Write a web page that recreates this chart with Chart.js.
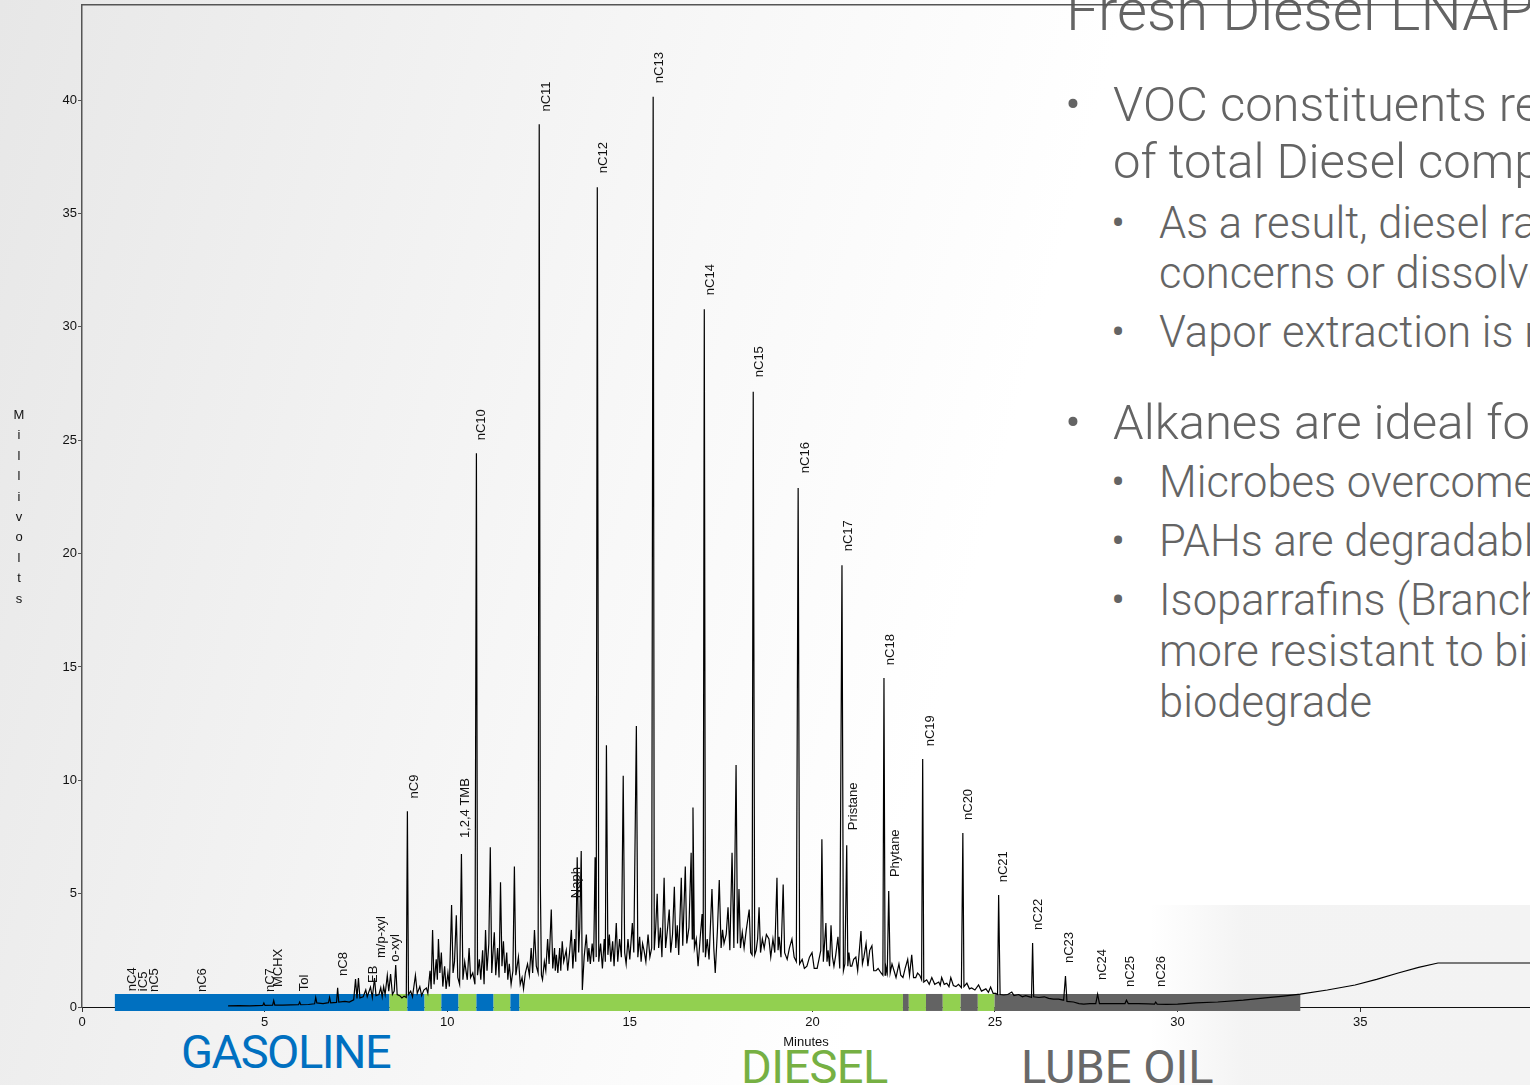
<!DOCTYPE html>
<html>
<head>
<meta charset="utf-8">
<script src="https://cdn.jsdelivr.net/npm/chart.js@4.4.0/dist/chart.umd.min.js"></script>
<style>
  html, body { margin:0; padding:0; }
  body { width:1530px; height:1085px; overflow:hidden; position:relative;
    background: linear-gradient(105deg, #e7e7e7 0%, #f0f0f0 22%, #f8f8f8 42%, #ffffff 62%, #ffffff 100%); }
  #lowpanel { position:absolute; left:1150px; top:905px; width:380px; height:180px;
    background: linear-gradient(90deg, rgba(242,242,242,0) 0%, rgba(242,242,242,0.9) 25%, #f3f3f3 100%); z-index:0; }
  #wrap { position:absolute; left:0; top:0; width:1530px; height:1085px; z-index:2; }
  .t { position:absolute; white-space:nowrap; line-height:1; font-family:Roboto, "Open Sans", sans-serif;
       font-weight:300; color:#646464; z-index:1; }
  .cat { position:absolute; white-space:nowrap; line-height:1; font-family:Roboto, sans-serif; font-weight:400; z-index:1; }
  #mv { position:absolute; left:9px; top:405px; width:20px; text-align:center; font:13px "Liberation Sans", Arial, sans-serif;
        line-height:20.4px; color:#111; z-index:3; }
</style>
</head>
<body>
<div id="lowpanel"></div>

<div class="t" style="left:1066px; top:-19px; font-size:58px;">Fresh Diesel LNAPL</div>

<div class="t" style="left:1065px; top:79.8px; font-size:49px;">•</div>
<div class="t" style="left:1113px; top:79.8px; font-size:49px;">VOC constituents represent</div>
<div class="t" style="left:1113px; top:136.8px; font-size:49px;">of total Diesel composition</div>

<div class="t" style="left:1111px; top:202.4px; font-size:43.5px;">•</div>
<div class="t" style="left:1159px; top:202.4px; font-size:43.5px;">As a result, diesel rarely</div>
<div class="t" style="left:1159px; top:252.4px; font-size:43.5px;">concerns or dissolved</div>
<div class="t" style="left:1111px; top:311.4px; font-size:43.5px;">•</div>
<div class="t" style="left:1159px; top:311.4px; font-size:43.5px;">Vapor extraction is not</div>

<div class="t" style="left:1065px; top:397.8px; font-size:49px;">•</div>
<div class="t" style="left:1113px; top:397.8px; font-size:49px;">Alkanes are ideal for</div>

<div class="t" style="left:1111px; top:461.4px; font-size:43.5px;">•</div>
<div class="t" style="left:1159px; top:461.4px; font-size:43.5px;">Microbes overcome</div>
<div class="t" style="left:1111px; top:520.4px; font-size:43.5px;">•</div>
<div class="t" style="left:1159px; top:520.4px; font-size:43.5px;">PAHs are degradable</div>
<div class="t" style="left:1111px; top:579.4px; font-size:43.5px;">•</div>
<div class="t" style="left:1159px; top:579.4px; font-size:43.5px;">Isoparrafins (Branched</div>
<div class="t" style="left:1159px; top:630.4px; font-size:43.5px;">more resistant to biological</div>
<div class="t" style="left:1159px; top:681.4px; font-size:43.5px;">biodegrade</div>

<div class="cat" style="left:181px; top:1028px; font-size:47px; color:#0070C0; letter-spacing:-1.5px;">GASOLINE</div>
<div class="cat" style="left:741px; top:1043px; font-size:47px; color:#76B043; letter-spacing:-0.6px;">DIESEL</div>
<div class="cat" style="left:1021px; top:1043px; font-size:47px; color:#686868; letter-spacing:0px;">LUBE OIL</div>

<div id="mv">M<br>i<br>l<br>l<br>i<br>v<br>o<br>l<br>t<br>s</div>

<div id="wrap"><canvas id="c" width="1530" height="1085"></canvas></div>

<script>
// ---- Chromatogram trace: [retention time (min), signal (mV)] ----
const tracePoints = [
[4.00,0.05],[4.30,0.06],[4.60,0.05],[4.95,0.07],[4.98,0.18],[5.01,0.07],[5.22,0.08],[5.25,0.28],[5.28,0.08],[5.50,0.08],
[5.72,0.09],[5.93,0.10],[5.96,0.22],[5.99,0.10],[6.20,0.11],[6.37,0.14],[6.40,0.42],[6.43,0.18],[6.60,0.15],[6.75,0.19],
[6.78,0.42],[6.81,0.18],[6.97,0.20],[7.00,0.85],[7.03,0.22],[7.20,0.25],[7.32,0.22],[7.44,0.32],[7.49,1.23],[7.53,0.38],
[7.57,1.28],[7.61,0.40],[7.70,0.45],[7.77,0.75],[7.81,0.45],[7.90,0.88],[7.95,0.42],[8.01,1.28],[8.05,0.50],[8.13,0.55],
[8.18,0.85],[8.22,0.45],[8.26,0.90],[8.30,0.55],[8.36,1.40],[8.40,0.70],[8.45,1.45],[8.50,0.55],[8.55,0.70],[8.59,1.85],
[8.63,0.55],[8.70,0.50],[8.76,0.40],[8.82,0.48],[8.88,0.42],[8.91,8.64],[8.94,0.55],
[9.00,0.70],[9.05,0.45],[9.13,1.40],[9.18,0.60],[9.25,0.90],[9.30,0.50],[9.36,0.75],[9.43,0.84],[9.47,0.60],[9.53,1.60],
[9.56,0.80],[9.60,3.40],[9.64,1.00],[9.70,2.10],[9.73,1.20],[9.76,3.00],[9.80,1.50],[9.84,2.40],[9.88,0.90],[9.93,1.80],
[9.97,0.80],[10.02,1.50],[10.06,0.90],[10.12,4.50],[10.16,1.50],[10.20,2.00],[10.25,4.05],[10.29,1.30],[10.34,1.00],[10.39,6.75],
[10.43,1.20],[10.48,2.00],[10.55,1.20],[10.60,2.60],[10.64,1.30],[10.70,1.50],[10.76,1.00],[10.80,24.43],[10.83,1.40],[10.88,2.10],
[10.92,1.20],[10.97,2.50],[11.01,1.00],[11.05,3.40],[11.09,1.60],[11.14,2.80],[11.18,7.05],[11.22,1.50],[11.29,3.30],[11.33,1.40],
[11.38,2.60],[11.42,1.30],[11.46,5.50],[11.50,1.80],[11.54,2.90],[11.58,1.50],[11.63,2.40],[11.66,1.20],[11.70,1.90],[11.75,1.00],
[11.80,1.60],[11.84,6.20],[11.88,1.40],[11.95,2.20],[12.00,1.00],[12.05,1.30],[12.09,0.80],[12.14,1.50],[12.20,1.90],[12.25,1.40],
[12.30,2.60],[12.34,1.50],[12.39,3.40],[12.44,1.80],[12.49,1.50],[12.52,38.94],[12.55,5.50],[12.58,1.40],
[12.61,1.20],[12.66,2.00],[12.70,1.60],[12.75,3.00],[12.79,1.90],[12.85,4.30],[12.89,1.70],[12.94,2.60],[12.96,1.60],[12.99,2.30],
[13.03,1.50],[13.08,2.60],[13.11,1.60],[13.15,2.90],[13.19,2.00],[13.26,2.50],[13.30,1.60],[13.35,2.40],[13.40,3.40],[13.44,1.70],
[13.49,3.00],[13.52,2.00],[13.56,6.60],[13.60,2.40],[13.63,3.50],[13.67,6.88],[13.70,0.75],[13.75,2.20],[13.81,3.20],[13.85,2.00],
[13.88,2.60],[13.92,1.90],[13.97,2.80],[14.01,2.00],[14.05,6.60],[14.08,2.20],[14.11,36.16],[14.15,2.00],[14.20,2.80],[14.25,1.70],
[14.30,3.00],[14.33,2.00],[14.36,11.55],[14.40,2.30],[14.44,3.20],[14.48,2.00],[14.53,2.90],[14.57,1.80],[14.63,3.70],[14.67,2.00],
[14.72,3.00],[14.77,2.20],[14.82,10.20],[14.86,2.40],[14.90,1.90],[14.95,3.00],[15.00,2.10],[15.07,3.70],[15.11,2.40],[15.18,12.40],
[15.22,2.20],[15.27,3.10],[15.31,2.00],[15.35,2.80],[15.39,2.50],[15.44,2.00],[15.50,3.20],[15.55,2.20],[15.60,2.60],[15.64,40.15],
[15.67,2.50],[15.71,3.50],[15.75,5.00],[15.79,2.60],[15.84,3.50],[15.88,2.20],[15.94,5.70],[15.98,2.60],[16.03,3.40],[16.08,4.30],
[16.12,2.40],[16.17,3.20],[16.22,5.30],[16.26,2.60],[16.30,3.60],[16.34,2.30],[16.41,5.70],[16.45,2.70],[16.52,6.20],[16.56,2.80],
[16.62,3.50],[16.68,6.80],[16.71,3.00],[16.73,8.80],[16.77,2.60],[16.82,3.00],[16.87,1.80],[16.93,3.10],[16.98,4.10],[17.01,2.40],
[17.04,30.78],[17.07,2.20],
[17.12,3.00],[17.17,2.10],[17.25,5.20],[17.30,2.60],[17.34,1.50],[17.40,3.40],[17.45,5.60],[17.50,2.60],[17.54,3.40],[17.58,2.80],
[17.64,3.20],[17.69,4.40],[17.74,2.50],[17.80,6.80],[17.85,2.60],[17.91,10.67],[17.95,2.80],[17.99,5.20],[18.03,2.60],[18.08,3.30],
[18.13,2.60],[18.19,3.40],[18.27,4.30],[18.31,2.40],[18.35,2.30],[18.38,27.14],[18.42,2.30],[18.46,2.50],[18.50,3.00],[18.54,4.40],
[18.58,2.40],[18.63,3.00],[18.68,2.60],[18.74,3.20],[18.81,3.00],[18.86,2.20],[18.92,3.00],[18.97,2.40],[19.03,5.70],[19.06,2.50],
[19.09,3.10],[19.14,2.20],[19.20,5.40],[19.24,2.40],[19.31,2.10],[19.37,2.60],[19.44,3.00],[19.50,2.20],[19.56,2.00],[19.61,22.89],
[19.65,1.90],[19.72,2.10],[19.78,1.70],[19.85,1.80],[19.92,2.20],[19.99,2.40],[20.05,1.70],[20.13,1.70],[20.18,2.10],[20.23,2.50],
[20.26,7.40],[20.30,2.00],[20.37,3.70],[20.40,2.00],[20.43,2.50],[20.47,1.80],[20.51,3.60],[20.55,2.20],[20.59,1.80],[20.64,2.30],
[20.70,3.10],[20.75,1.70],[20.81,19.49],[20.85,1.60],[20.89,1.90],[20.94,7.14],[20.97,1.80],[21.00,2.40],[21.04,1.80],[21.08,1.80],
[21.13,2.10],[21.19,2.20],[21.24,1.60],[21.33,3.35],[21.37,1.90],[21.41,2.20],[21.47,2.80],[21.52,1.80],[21.57,2.50],[21.63,2.70],
[21.68,1.60],[21.74,1.60],[21.80,1.70],[21.88,1.50],[21.93,1.40],[21.96,14.51],[21.99,1.40],[22.01,1.80],[22.05,1.50],[22.09,5.12],
[22.13,1.50],[22.18,1.90],[22.29,1.30],[22.33,1.60],[22.37,1.90],[22.42,1.40],[22.48,1.30],
[22.54,1.70],[22.61,2.10],[22.66,1.40],[22.72,2.30],[22.77,1.30],[22.83,1.30],[22.88,1.50],[22.94,1.40],[22.99,1.20],[23.02,10.94],
[23.05,1.10],[23.13,1.20],[23.20,1.00],[23.27,1.30],[23.35,1.00],[23.46,1.10],[23.50,0.95],[23.54,1.30],[23.61,1.00],[23.68,1.05],
[23.74,0.90],[23.79,1.30],[23.86,0.95],[23.93,0.90],[24.00,1.00],[24.08,0.85],[24.12,7.67],[24.15,0.90],[24.23,1.05],[24.30,0.80],
[24.36,0.84],[24.45,0.75],[24.55,0.97],[24.63,0.70],[24.75,0.80],[24.82,0.65],[24.88,0.88],[24.95,0.60],[25.02,0.60],[25.07,0.55],
[25.10,4.94],[25.14,0.55],
[25.24,0.53],[25.35,0.55],[25.46,0.66],[25.52,0.50],[25.65,0.55],[25.75,0.45],[25.84,0.50],[25.95,0.45],[26.00,0.42],[26.03,2.82],
[26.06,0.45],[26.20,0.42],[26.35,0.45],[26.47,0.38],[26.60,0.35],[26.74,0.35],[26.88,0.30],[26.93,1.37],[26.97,0.25],[27.15,0.22],
[27.30,0.15],[27.43,0.13],[27.60,0.15],[27.76,0.15],[27.81,0.57],[27.86,0.15],[28.11,0.15],[28.40,0.15],[28.56,0.15],[28.60,0.30],
[28.65,0.15],[28.93,0.15],[29.20,0.14],[29.37,0.13],[29.40,0.22],[29.44,0.13],[29.70,0.12],[30.00,0.13],[30.50,0.18],[31.10,0.22],
[31.80,0.30],[32.40,0.40],[32.90,0.48],[33.36,0.57],[34.10,0.75],[34.86,0.97],[35.45,1.22],[36.04,1.50],[36.60,1.75],[37.13,1.94],
[38.00,1.94],[39.65,1.94]
];

// ---- Peak identifications ----
const peakNames      = ['nC4','iC5','nC5','nC6','nC7','MCHX','Tol','nC8','EB','m/p-xyl','o-xyl','nC9','1,2,4 TMB','nC10','nC11','Naph','nC12','nC13','nC14','nC15','nC16','nC17','Pristane','nC18','Phytane','nC19','nC20','nC21','nC22','nC23','nC24','nC25','nC26'];
const peakLabelTimes = [1.37,1.67,1.97,3.29,5.15,5.39,6.08,7.15,7.97,8.21,8.57,9.09,10.51,10.95,12.71,13.55,14.27,15.80,17.22,18.54,19.80,21.00,21.11,22.15,22.26,23.22,24.26,25.22,26.18,27.05,27.93,28.72,29.57];
const peakLabelBases = [0.70,0.70,0.66,0.66,0.66,0.88,0.70,1.37,1.06,2.16,2.00,9.20,7.45,25.00,39.50,4.80,36.78,40.75,31.40,27.78,23.55,20.10,7.80,15.08,5.73,11.50,8.25,5.50,3.40,1.94,1.19,0.88,0.88];

// ---- Boiling-range bands along the time axis ----
const bandEdges = [0.90,8.42,8.91,9.38,9.84,10.31,10.80,11.27,11.73,11.98,22.48,22.64,23.11,23.57,24.06,24.53,24.99,33.36];
const bandTypes = ['GASOLINE','DIESEL','GASOLINE','DIESEL','GASOLINE','DIESEL','GASOLINE','DIESEL','GASOLINE','DIESEL','LUBE OIL','DIESEL','LUBE OIL','DIESEL','LUBE OIL','DIESEL','LUBE OIL'];
const bandColors = { 'GASOLINE':'#0070C0', 'DIESEL':'#92D050', 'LUBE OIL':'#636363' };

// ---- Axes ----
const xTicksStep = 5, xMin = 0, xMax = 39.65;
const yTicksStep = 5, yMin = 0, yMax = 44.2;

const FONT = '"Liberation Sans", Arial, sans-serif';
Chart.defaults.font.family = FONT;

const peakLabelPlugin = {
  id: 'peakLabels',
  afterDatasetsDraw(chart) {
    const { ctx, scales } = chart;
    ctx.save();
    ctx.font = '13px ' + FONT;
    ctx.fillStyle = '#111';
    ctx.textAlign = 'left';
    ctx.textBaseline = 'middle';
    peakNames.forEach((name, i) => {
      const px = scales.x.getPixelForValue(peakLabelTimes[i]);
      const py = scales.y.getPixelForValue(peakLabelBases[i]);
      ctx.save();
      ctx.translate(px, py);
      ctx.rotate(-Math.PI / 2);
      ctx.fillText(name, 0, 0);
      ctx.restore();
    });
    ctx.restore();
  }
};

new Chart(document.getElementById('c'), {
  type: 'scatter',
  data: {
    datasets: [
      {
        label: 'Signal',
        data: tracePoints.map(p => ({ x: p[0], y: p[1] })),
        showLine: true, borderColor: '#000', borderWidth: 1.2,
        pointRadius: 0, pointHoverRadius: 0, tension: 0, clip: false, order: 0
      },
      {
        label: 'Bands',
        data: bandEdges.map(t => ({ x: t, y: 0.2 })),
        showLine: true, borderWidth: 17, borderCapStyle: 'butt',
        borderColor: '#0070C0', pointRadius: 0, pointHoverRadius: 0, clip: false, order: 1,
        segment: { borderColor: c => bandColors[bandTypes[c.p0DataIndex]] }
      }
    ]
  },
  options: {
    responsive: false, animation: false, devicePixelRatio: 1,
    layout: { padding: { top: 5, right: 0, left: 0, bottom: 0 } },
    plugins: { legend: { display: false }, tooltip: { enabled: false } },
    scales: {
      x: {
        type: 'linear', position: 'bottom', min: xMin, max: xMax,
        afterFit: s => { s.height = 78; s.paddingLeft = 0; s.paddingRight = 0; },
        ticks: { stepSize: xTicksStep, includeBounds: false, autoSkip: false, maxRotation: 0,
                 font: { size: 13 }, color: '#111', padding: 3 },
        grid: { display: true, drawOnChartArea: false, drawTicks: true, tickLength: 5, color: '#333' },
        border: { display: true, color: '#111', width: 1 },
        title: { display: true, text: 'Minutes', font: { size: 13 }, color: '#111', padding: { top: 0, bottom: 35 } }
      },
      xTop: {
        type: 'linear', position: 'top', min: xMin, max: xMax,
        afterFit: s => { s.height = 0; s.paddingLeft = 0; s.paddingRight = 0; },
        ticks: { display: false },
        grid: { display: false },
        border: { display: true, color: '#555', width: 1.5 }
      },
      y: {
        type: 'linear', position: 'left', min: yMin, max: yMax,
        afterFit: s => { s.width = 82; s.paddingTop = 0; s.paddingBottom = 0; },
        ticks: { stepSize: yTicksStep, includeBounds: false, font: { size: 13 }, color: '#111', padding: 1 },
        grid: { display: true, drawOnChartArea: false, drawTicks: true, tickLength: 4, color: '#555' },
        border: { display: true, color: '#555', width: 1.5 }
      }
    }
  },
  plugins: [peakLabelPlugin]
});
</script>
</body>
</html>
